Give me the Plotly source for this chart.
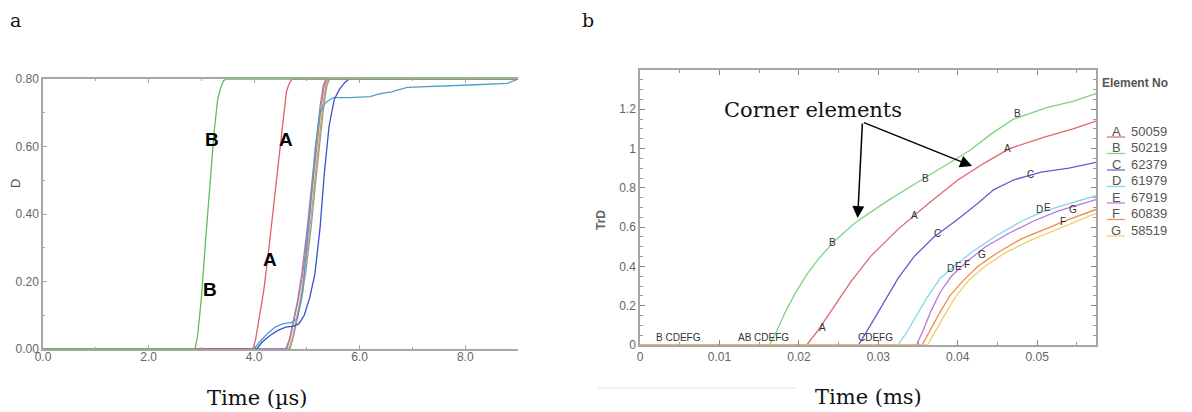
import plotly.graph_objects as go

# the page adds an 8px body margin; the figure is sized so that it exactly fills the window
OFF = 8
W, H = 1192 - OFF, 412 - OFF

# ---------------- panel a data (time in microseconds, damage D) ----------------
a_B_time = [0, 2.88, 2.93, 3.0, 3.08, 3.16, 3.24, 3.31, 3.37, 3.42, 3.48, 9.0]
a_B_D = [0, 0, 0.04, 0.15, 0.32, 0.49, 0.64, 0.74, 0.775, 0.795, 0.8, 0.8]

a_A_time = [0, 3.98, 4.03, 4.1, 4.18, 4.26, 4.34, 4.42, 4.5, 4.56, 4.61, 4.66, 4.72, 9.0]
a_A_D = [0, 0, 0.03, 0.09, 0.17, 0.27, 0.38, 0.49, 0.6, 0.7, 0.76, 0.785, 0.8, 0.8]

a_orange_time = [0, 4.62, 4.68, 4.75, 4.83, 4.92, 5.02, 5.12, 5.2, 5.27, 5.33, 5.38, 9.0]
a_orange_D = [0, 0, 0.03, 0.08, 0.14, 0.22, 0.35, 0.5, 0.62, 0.72, 0.78, 0.8, 0.8]

a_tan_time = [0, 4.66, 4.72, 4.79, 4.87, 4.95, 5.05, 5.15, 5.23, 5.3, 5.36, 5.41, 9.0]
a_tan_D = [0, 0, 0.03, 0.08, 0.14, 0.22, 0.35, 0.5, 0.62, 0.72, 0.78, 0.8, 0.8]

a_gray_time = [0, 4.68, 4.75, 4.82, 4.9, 4.98, 5.08, 5.17, 5.25, 5.32, 5.38, 5.43, 9.0]
a_gray_D = [0, 0, 0.04, 0.09, 0.15, 0.23, 0.36, 0.5, 0.62, 0.72, 0.78, 0.8, 0.8]

a_purple_time = [0, 4.6, 4.67, 4.74, 4.82, 4.9, 5.0, 5.1, 5.18, 5.25, 5.31, 5.36, 9.0]
a_purple_D = [0, 0, 0.03, 0.08, 0.14, 0.22, 0.35, 0.5, 0.62, 0.72, 0.78, 0.8, 0.8]

a_blue_time = [0, 4.05, 4.15, 4.3, 4.45, 4.6, 4.75, 4.85, 4.95, 5.05, 5.15, 5.25, 5.33, 5.42, 5.52, 5.62, 5.72, 5.8, 9.0]
a_blue_D = [0, 0, 0.02, 0.04, 0.055, 0.065, 0.068, 0.075, 0.1, 0.15, 0.22, 0.36, 0.52, 0.66, 0.74, 0.77, 0.79, 0.8, 0.8]

a_lightblue_time = [0, 4.0, 4.1, 4.25, 4.4, 4.55, 4.7, 4.82, 4.92, 5.0, 5.08, 5.16, 5.25, 5.35, 5.5,
                    5.8, 6.2, 6.35, 6.6, 6.9, 7.3, 7.6, 8.2, 8.8, 9.0]
a_lightblue_D = [0, 0, 0.02, 0.045, 0.065, 0.075, 0.078, 0.09, 0.17, 0.3, 0.45, 0.6, 0.7, 0.73, 0.745,
                 0.745, 0.748, 0.755, 0.762, 0.775, 0.777, 0.78, 0.783, 0.787, 0.8]

a_series = [
    (a_orange_time, a_orange_D, "#d2834a"),
    (a_tan_time, a_tan_D, "#c9a86a"),
    (a_gray_time, a_gray_D, "#9a9a9a"),
    (a_purple_time, a_purple_D, "#a47ac8"),
    (a_lightblue_time, a_lightblue_D, "#4f9fc9"),
    (a_blue_time, a_blue_D, "#3a4fd2"),
    (a_A_time, a_A_D, "#e0606c"),
    (a_B_time, a_B_D, "#5cc15c"),
]

a_xticks = [0, 2, 4, 6, 8]
a_yticks = [0, 0.2, 0.4, 0.6, 0.8]

# curve labels in panel a: (text, time, D)
a_labels = [("B", 3.2, 0.62), ("B", 3.17, 0.175), ("A", 4.6, 0.62), ("A", 4.3, 0.264)]

# ---------------- panel b data (time in ms, TrD) ----------------
b_letters = ["A", "B", "C", "D", "E", "F", "G"]
b_numbers = ["50059", "50219", "62379", "61979", "67919", "60839", "58519"]
b_colors = ["#e2646e", "#7fd27f", "#5b5fd0", "#7fd8e6", "#c173dd", "#f08a4e", "#f0cf6a"]

b_time = {
    "A": [0, 0.021, 0.0225, 0.0245, 0.0265, 0.029, 0.0325, 0.036, 0.04, 0.0435, 0.0465, 0.051, 0.0545, 0.0574],
    "B": [0, 0.0163, 0.0172, 0.0182, 0.0195, 0.021, 0.0225, 0.0245, 0.027, 0.031, 0.035, 0.039, 0.0415,
          0.0444, 0.047, 0.0513, 0.0545, 0.0574],
    "C": [0, 0.0275, 0.029, 0.031, 0.0325, 0.0345, 0.037, 0.04, 0.0425, 0.0445, 0.047, 0.0505, 0.054, 0.0574],
    "D": [0, 0.0325, 0.0335, 0.0348, 0.0361, 0.0378, 0.0395, 0.042, 0.045, 0.048, 0.0508, 0.054, 0.0574],
    "E": [0, 0.0348, 0.0356, 0.0366, 0.0378, 0.0392, 0.041, 0.0435, 0.0465, 0.0495, 0.0525, 0.0574],
    "F": [0, 0.0355, 0.0362, 0.037, 0.0378, 0.039, 0.0405, 0.0425, 0.045, 0.048, 0.051, 0.054, 0.0574],
    "G": [0, 0.0362, 0.0369, 0.0377, 0.0386, 0.0398, 0.0414, 0.0434, 0.046, 0.049, 0.052, 0.055, 0.0574],
}
b_trd = {
    "A": [0, 0, 0.08, 0.2, 0.32, 0.45, 0.59, 0.71, 0.84, 0.93, 1.0, 1.06, 1.1, 1.14],
    "B": [0, 0, 0.07, 0.16, 0.26, 0.36, 0.44, 0.53, 0.62, 0.73, 0.83, 0.93, 0.99, 1.08, 1.15, 1.21, 1.24, 1.28],
    "C": [0, 0, 0.1, 0.24, 0.34, 0.45, 0.55, 0.64, 0.72, 0.79, 0.84, 0.88, 0.9, 0.93],
    "D": [0, 0, 0.06, 0.15, 0.24, 0.34, 0.4, 0.48, 0.56, 0.63, 0.68, 0.72, 0.76],
    "E": [0, 0, 0.07, 0.17, 0.27, 0.35, 0.42, 0.5, 0.57, 0.63, 0.68, 0.74],
    "F": [0, 0, 0.05, 0.11, 0.17, 0.25, 0.32, 0.4, 0.47, 0.54, 0.59, 0.64, 0.69],
    "G": [0, 0, 0.05, 0.11, 0.17, 0.25, 0.33, 0.4, 0.47, 0.53, 0.58, 0.63, 0.67],
}
b_draw_order = ["C", "D", "E", "F", "B", "A", "G"]

b_xticks = [0, 0.01, 0.02, 0.03, 0.04, 0.05]
b_xticktext = ["0", "0.01", "0.02", "0.03", "0.04", "0.05"]
b_yticks = [0, 0.2, 0.4, 0.6, 0.8, 1.0, 1.2]
b_yticktext = ["0", "0.2", "0.4", "0.6", "0.8", "1", "1.2"]

# curve labels in panel b: (text, time, TrD)
b_labels = [
    ("B", 0.0242, 0.52), ("B", 0.0359, 0.85), ("B", 0.0475, 1.18),
    ("A", 0.023, 0.09), ("A", 0.0346, 0.66), ("A", 0.0463, 1.0),
    ("C", 0.0375, 0.57), ("C", 0.0491, 0.87),
    ("D", 0.0391, 0.39), ("E", 0.0401, 0.40), ("F", 0.0411, 0.41), ("G", 0.043, 0.46),
    ("D", 0.0503, 0.69), ("E", 0.0513, 0.70), ("F", 0.0533, 0.63), ("G", 0.0545, 0.69),
    ("B CDEFG", 0.0048, 0.04), ("AB CDEFG", 0.0156, 0.04), ("CDEFG", 0.0296, 0.04),
]

# ---------------- figure ----------------
fig = go.Figure()

for t, d, c in a_series:
    fig.add_trace(go.Scatter(x=t, y=d, mode="lines", line=dict(color=c, width=1.3),
                             xaxis="x", yaxis="y", showlegend=False, hoverinfo="skip"))

for key in b_draw_order:
    c = b_colors[b_letters.index(key)]
    fig.add_trace(go.Scatter(x=b_time[key], y=b_trd[key], mode="lines", line=dict(color=c, width=1.3),
                             xaxis="x2", yaxis="y2", showlegend=False, hoverinfo="skip"))

tickfont = dict(family="Liberation Sans, Arial", size=12, color="#666")
axcol = "#a6a6a6"


def px(x):
    """window pixel x -> paper fraction"""
    return (x - OFF) / W


def py(y):
    """window pixel y (from top) -> paper fraction"""
    return 1 - (y - OFF) / H


fig.update_layout(
    width=W, height=H, margin=dict(l=0, r=0, t=0, b=0, autoexpand=False),
    paper_bgcolor="white", plot_bgcolor="white",
    xaxis=dict(domain=[px(43), px(518)], range=[0, 9], tickvals=a_xticks, tickformat=".1f",
               ticks="inside", ticklen=4, tickcolor=axcol, showline=True, linecolor=axcol, linewidth=1.5,
               mirror="ticks", showgrid=False, zeroline=False, tickfont=tickfont, anchor="y",
               automargin=False, ticklabelstandoff=-4,
               minor=dict(dtick=1, ticks="inside", ticklen=2, tickcolor=axcol)),
    yaxis=dict(domain=[py(349), py(79)], range=[0, 0.8], tickvals=a_yticks, tickformat=".2f",
               ticks="inside", ticklen=4, tickcolor=axcol, showline=True, linecolor=axcol, linewidth=1.5,
               showgrid=False, zeroline=False, tickfont=tickfont, anchor="x", automargin=False,
               minor=dict(dtick=0.1, ticks="inside", ticklen=2, tickcolor=axcol)),
    xaxis2=dict(domain=[px(640), px(1096)], range=[0, 0.0574], tickvals=b_xticks, ticktext=b_xticktext,
                ticks="inside", ticklen=5, tickcolor="#888", showline=True, linecolor=axcol, linewidth=1.5,
                mirror="ticks", showgrid=False, zeroline=False, tickfont=tickfont, anchor="y2",
                automargin=False,
                minor=dict(dtick=0.005, ticks="inside", ticklen=3, tickcolor="#999")),
    yaxis2=dict(domain=[py(345), py(70)], range=[0, 1.4], tickvals=b_yticks, ticktext=b_yticktext,
                ticks="inside", ticklen=5, tickcolor="#888", showline=True, linecolor=axcol, linewidth=1.5,
                mirror="ticks", showgrid=False, zeroline=False, tickfont=tickfont, anchor="x2",
                automargin=False,
                minor=dict(dtick=0.05, ticks="inside", ticklen=3, tickcolor="#999")),
)

annotations = []
serif = "DejaVu Serif, Liberation Serif, serif"
sans = "Liberation Sans, Arial"

# panel letters and axis titles
annotations.append(dict(text="a", x=px(9), y=py(20), xref="paper", yref="paper", xanchor="left",
                        yanchor="middle", showarrow=False, borderpad=0,
                        font=dict(family=serif, size=19, color="#111")))
annotations.append(dict(text="b", x=px(581), y=py(20), xref="paper", yref="paper", xanchor="left",
                        yanchor="middle", showarrow=False, borderpad=0,
                        font=dict(family=serif, size=19, color="#111")))
annotations.append(dict(text="Time (µs)", x=px(257), y=py(398), xref="paper", yref="paper", xanchor="center",
                        yanchor="middle", showarrow=False, font=dict(family=serif, size=21, color="#111")))
annotations.append(dict(text="Time (ms)", x=px(868), y=py(397), xref="paper", yref="paper", xanchor="center",
                        yanchor="middle", showarrow=False, font=dict(family=serif, size=21, color="#111")))
annotations.append(dict(text="Corner elements", x=px(813), y=py(110), xref="paper", yref="paper",
                        xanchor="center", yanchor="middle", showarrow=False,
                        font=dict(family=serif, size=21, color="#111")))
# y-axis titles
annotations.append(dict(text="D", x=px(16), y=py(184), xref="paper", yref="paper", xanchor="center",
                        yanchor="middle", textangle=-90, showarrow=False, borderpad=0,
                        font=dict(family=sans, size=13, color="#555")))
annotations.append(dict(text="<b>TrD</b>", x=px(601), y=py(220), xref="paper", yref="paper", xanchor="center",
                        yanchor="middle", textangle=-90, showarrow=False,
                        font=dict(family=sans, size=12, color="#666")))

# panel a curve labels
for txt, t, d in a_labels:
    annotations.append(dict(text="<b>" + txt + "</b>", x=t, y=d, xref="x", yref="y", showarrow=False,
                            font=dict(family=sans, size=19, color="#000"),
                            xanchor="center", yanchor="middle"))

# panel b curve labels
for txt, t, d in b_labels:
    annotations.append(dict(text=txt, x=t, y=d, xref="x2", yref="y2", showarrow=False,
                            font=dict(family=sans, size=10, color="#333"),
                            xanchor="center", yanchor="middle"))

# arrows pointing to corner elements (tail at the label, head on curves B and A)
arrow_tail = (0.028, 1.135)
arrow_heads = [(0.0274, 0.646), (0.0418, 0.911)]
for hx, hy in arrow_heads:
    annotations.append(dict(x=hx, y=hy, ax=arrow_tail[0], ay=arrow_tail[1], xref="x2", yref="y2",
                            axref="x2", ayref="y2", text="", showarrow=True, arrowhead=2, arrowsize=1.6,
                            arrowwidth=1.5, arrowcolor="#000"))

# legend block
annotations.append(dict(text="<b>Element No</b>", x=px(1100), y=py(83), xref="paper", yref="paper",
                        xanchor="left", yanchor="middle", showarrow=False,
                        font=dict(family=sans, size=12, color="#555")))
shapes = []
for i, (let, num, col) in enumerate(zip(b_letters, b_numbers, b_colors)):
    yy = 131 + 16.5 * i
    annotations.append(dict(text=let, x=px(1116), y=py(yy), xref="paper", yref="paper", xanchor="center",
                            yanchor="middle", showarrow=False,
                            font=dict(family=sans, size=13, color="#555")))
    annotations.append(dict(text=num, x=px(1129), y=py(yy), xref="paper", yref="paper", xanchor="left",
                            yanchor="middle", showarrow=False,
                            font=dict(family=sans, size=13, color="#555")))
    shapes.append(dict(type="line", xref="paper", yref="paper", x0=px(1107), x1=px(1125),
                       y0=py(yy + 6), y1=py(yy + 6), line=dict(color=col, width=1.2)))

# faint rule under panel b
shapes.append(dict(type="line", xref="paper", yref="paper", x0=px(598), x1=px(796), y0=py(388), y1=py(388),
                   line=dict(color="#e2e2e2", width=1)))

fig.update_layout(annotations=annotations, shapes=shapes)

fig.write_html("out.html")
